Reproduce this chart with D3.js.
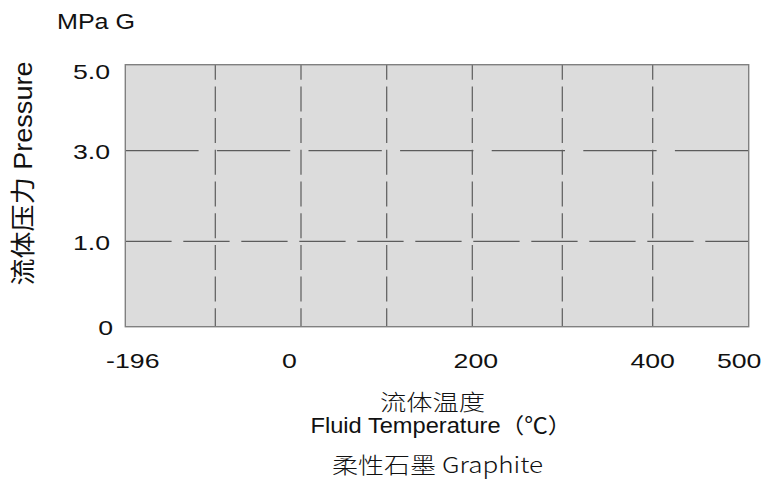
<!DOCTYPE html>
<html>
<head>
<meta charset="utf-8">
<script src="https://cdn.jsdelivr.net/npm/d3@7"></script>
<style>
  html, body { margin: 0; padding: 0; background: #fff; }
  svg { display: block; }
  text { fill: #111; }
</style>
</head>
<body>
<svg id="chart" width="764" height="484"></svg>
<script>
// ---- data ----
const yTickValues = [0, 1, 3, 5];
const yTickLabels = ["0", "1.0", "3.0", "5.0"];
const xTickValues = [-196, 0, 200, 400, 500];
const xTickLabels = ["-196", "0", "200", "400", "500"];
const xGridValues = [-100, 0, 100, 200, 300, 400];
const yGridValues = [1, 3];
const xDomainBreaks = [-196, -100, 0, 100, 200, 300, 400, 500];
const unitLabel = "MPa G";
const yTitle = "流体压力 Pressure";
const xTitleCn = "流体温度";
const xTitleEn = "Fluid Temperature（℃）";
const materialLabel = "柔性石墨 Graphite";

// ---- layout ----
const svg = d3.select("#chart");
const plotLeft = 125.3, plotRight = 748.7, plotTop = 64.7, plotBottom = 326.7;

const x = d3.scaleLinear()
  .domain(xDomainBreaks)
  .range([plotLeft, 215.3, 301, 386.7, 472.3, 562.3, 652.7, plotRight]);
const y = d3.scaleLinear()
  .domain(yTickValues)
  .range([plotBottom, 241.3, 150.7, plotTop]);

// plot background
svg.append("rect")
  .attr("x", x(-196)).attr("y", y(5))
  .attr("width", x(500) - x(-196)).attr("height", y(0) - y(5))
  .attr("fill", "#dcdcdc");

// vertical dashed grid
svg.append("g").selectAll("line").data(xGridValues).join("line")
  .attr("x1", d => x(d)).attr("x2", d => x(d))
  .attr("y1", y(5)).attr("y2", y(0))
  .attr("stroke", "#5c5c5c").attr("stroke-width", 1.2)
  .attr("stroke-dasharray", "25,6.7").attr("stroke-dashoffset", 10);

// horizontal dashed grid
const hDash = {1: "46.3,11.7", 3: "73.3,18.3"};
svg.append("g").selectAll("line").data(yGridValues).join("line")
  .attr("x1", x(-196)).attr("x2", x(500))
  .attr("y1", d => y(d)).attr("y2", d => y(d))
  .attr("stroke", "#5c5c5c").attr("stroke-width", 1.2)
  .attr("stroke-dasharray", d => hDash[d]);

// border
svg.append("rect")
  .attr("x", x(-196)).attr("y", y(5))
  .attr("width", x(500) - x(-196)).attr("height", y(0) - y(5))
  .attr("fill", "none").attr("stroke", "#808080").attr("stroke-width", 1.4);

function stretch(sel, factor) {
  sel.each(function() {
    const w = this.getComputedTextLength();
    d3.select(this).attr("textLength", w * factor).attr("lengthAdjust", "spacingAndGlyphs");
  });
}

// y axis
const yAxis = svg.append("g")
  .attr("transform", `translate(${110},0)`)
  .call(d3.axisLeft(y).tickValues(yTickValues)
    .tickFormat((d, i) => yTickLabels[i]).tickSize(0).tickPadding(0));
yAxis.select(".domain").remove();
yAxis.selectAll("text")
  .attr("font-family", "Liberation Sans, Arial, sans-serif")
  .attr("font-size", 21)
  .attr("fill", "#111")
  .attr("text-anchor", "end")
  .attr("x", d => d === 0 ? 3 : 0)
  .attr("dy", null)
  .attr("y", d => Math.max(0, (y(5) + 13.5) - (y(d) + 7.8)) + 7.8);
yAxis.selectAll("text").call(stretch, 1.27);

// x axis
const xNudge = {"-196": 7, "0": -12, "200": 3, "400": -0.5, "500": -10};
const xAxis = svg.append("g")
  .attr("transform", `translate(0,${368})`)
  .call(d3.axisBottom(x).tickValues(xTickValues)
    .tickFormat((d, i) => xTickLabels[i]).tickSize(0).tickPadding(0));
xAxis.select(".domain").remove();
xAxis.selectAll("text")
  .attr("font-family", "Liberation Sans, Arial, sans-serif")
  .attr("font-size", 21)
  .attr("fill", "#111")
  .attr("text-anchor", "middle")
  .attr("dy", null)
  .attr("y", 0)
  .attr("x", d => xNudge[String(d)]);
xAxis.selectAll("text").call(stretch, 1.27);

// unit label
svg.append("text")
  .attr("x", 57).attr("y", 29.3)
  .attr("font-family", "Liberation Sans, Arial, sans-serif")
  .attr("font-size", 22)
  .attr("textLength", 78).attr("lengthAdjust", "spacingAndGlyphs")
  .text(unitLabel);

// y title
svg.append("text")
  .attr("transform", "translate(32.3,173.5) rotate(-90)")
  .attr("text-anchor", "middle")
  .attr("font-family", "Liberation Sans, Arial, 'Noto Sans CJK SC', sans-serif")
  .attr("font-size", 25)
  .attr("textLength", 224).attr("lengthAdjust", "spacingAndGlyphs")
  .text(yTitle);

// x titles
svg.append("text")
  .attr("x", 380).attr("y", 409.8)
  .attr("font-family", "'Noto Sans CJK SC', sans-serif")
  .attr("font-size", 22)
  .attr("font-weight", 300)
  .attr("textLength", 105).attr("lengthAdjust", "spacingAndGlyphs")
  .text(xTitleCn);

svg.append("text")
  .attr("x", 310.5).attr("y", 433.3)
  .attr("font-family", "Liberation Sans, Arial, 'Noto Sans CJK SC', sans-serif")
  .attr("font-size", 21.5)
  .attr("textLength", 261).attr("lengthAdjust", "spacingAndGlyphs")
  .text(xTitleEn);

svg.append("text")
  .attr("x", 332).attr("y", 473.3)
  .attr("font-family", "'Noto Sans CJK SC', Liberation Sans, sans-serif")
  .attr("font-size", 22)
  .attr("font-weight", 300)
  .attr("textLength", 211).attr("lengthAdjust", "spacingAndGlyphs")
  .text(materialLabel);
</script>
</body>
</html>
